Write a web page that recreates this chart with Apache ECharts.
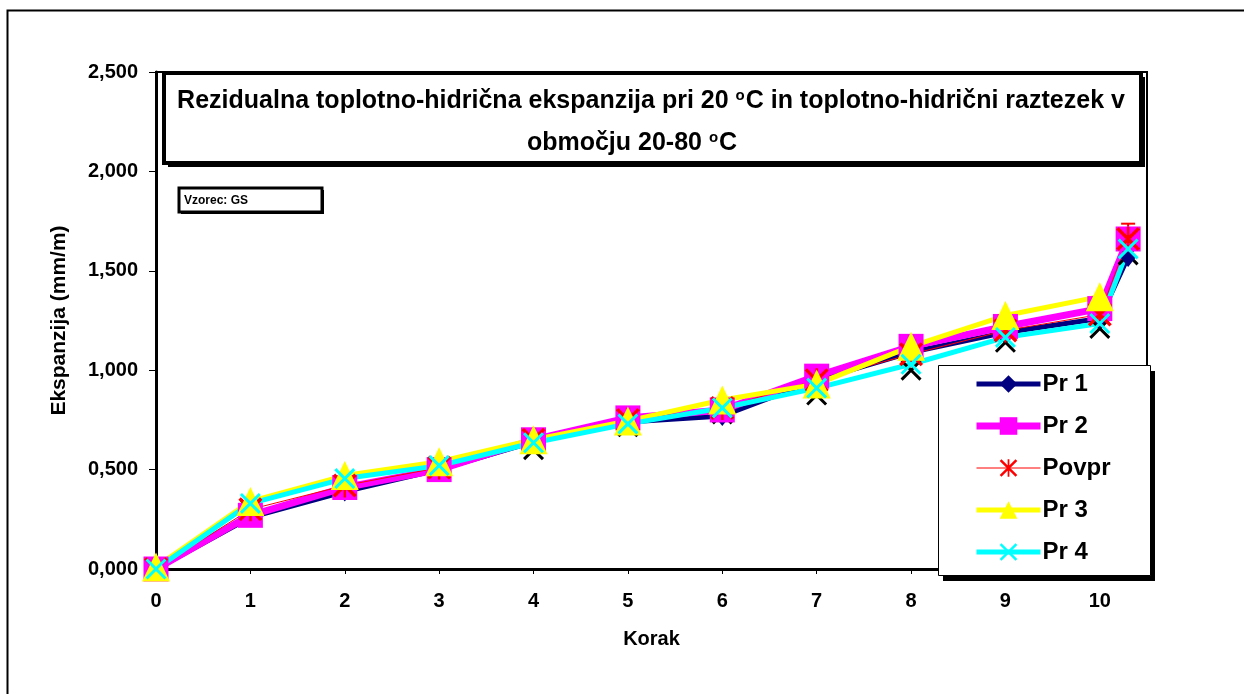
<!DOCTYPE html>
<html>
<head>
<meta charset="utf-8">
<script src="https://cdn.jsdelivr.net/npm/echarts@6/dist/echarts.min.js"></script>
<style>
  html, body { margin: 0; padding: 0; background: #fff; }
  #chart { width: 1244px; height: 694px; }
</style>
</head>
<body>
<div id="chart"></div>
<script>
// Measurement steps (Korak); the last one sits just after step 10
const steps = [0, 1, 2, 3, 4, 5, 6, 7, 8, 9, 10, 10.3];

// Expansion values in mm/m
const pr1   = [0, 0.26, 0.39, 0.50, 0.64, 0.74, 0.77, 0.95, 1.09, 1.19, 1.26, 1.57];
const pr2   = [0, 0.27, 0.41, 0.50, 0.65, 0.76, 0.80, 0.97, 1.12, 1.22, 1.31, 1.66];
const povpr = [0, 0.30, 0.42, 0.51, 0.65, 0.75, 0.81, 0.95, 1.08, 1.20, 1.28, 1.66];
const pr3   = [0.01, 0.34, 0.47, 0.54, 0.65, 0.745, 0.85, 0.93, 1.12, 1.275, 1.37, null];
const pr4   = [0, 0.33, 0.455, 0.52, 0.635, 0.73, 0.81, 0.91, 1.03, 1.165, 1.235, 1.61];
const pr5   = [0, 0.30, 0.42, 0.50, 0.60, 0.715, 0.78, 0.875, 1.00, 1.14, 1.21, 1.58];

// Error bar on the final average point: [step, low, high]
const povprError = [[10.3, 1.58, 1.737]];

const legendNames = ['Pr 1', 'Pr 2', 'Povpr', 'Pr 3', 'Pr 4'];
const titleLine1 = 'Rezidualna toplotno-hidrična ekspanzija pri 20 {sup|o}C in toplotno-hidrični raztezek v';
const titleLine2 = 'območju 20-80 {sup|o}C';
const sampleLabel = 'Vzorec: GS';
const xName = 'Korak';
const yName = 'Ekspanzija (mm/m)';

const FONT = '"Liberation Sans", Arial, sans-serif';
const xMark = 'path://M0,10L10,0L100,90L90,100Z M90,0L100,10L10,100L0,90Z';
const starMark = 'path://M0,10L10,0L100,90L90,100Z M90,0L100,10L10,100L0,90Z M45,0L55,0L55,100L45,100Z';

function pairs(values) {
  const out = [];
  values.forEach((v, i) => { if (v !== null) out.push([steps[i], v]); });
  return out;
}

function lineSeries(name, values, color, width, symbol, size, extra) {
  return Object.assign({
    name: name,
    type: 'line',
    data: pairs(values),
    color: color,
    symbol: symbol,
    symbolSize: size,
    showSymbol: true,
    showAllSymbol: true,
    lineStyle: { color: color, width: width },
    itemStyle: { color: color },
    emphasis: { disabled: true },
    animation: false
  }, extra || {});
}

const chart = echarts.init(document.getElementById('chart'), null, { renderer: 'canvas' });

const supRich = {
  sup: { fontSize: 15, fontWeight: 'bold', fontFamily: FONT, fill: '#000',
         verticalAlign: 'top', lineHeight: 12, padding: [0, 1, 0, 0] }
};

const option = {
  backgroundColor: '#fff',
  animation: false,
  grid: {
    left: 156, right: 97, top: 72, bottom: 125,
    show: true, borderColor: '#000', borderWidth: 2, backgroundColor: 'transparent',
    outerBoundsMode: 'none'
  },
  xAxis: {
    type: 'value', min: 0, max: 10.5, interval: 1,
    name: xName, nameLocation: 'middle', nameGap: 60,
    nameTextStyle: { fontFamily: FONT, fontWeight: 'bold', fontSize: 20, color: '#000' },
    axisLine: { show: true, onZero: false, lineStyle: { color: '#000', width: 3 } },
    axisTick: { show: true, inside: false, length: 5, lineStyle: { color: '#000', width: 1 } },
    axisLabel: {
      margin: 22, fontFamily: FONT, fontWeight: 'bold', fontSize: 20, color: '#000',
      formatter: v => (Number.isInteger(v) ? String(v) : '')
    },
    splitLine: { show: false }
  },
  yAxis: {
    type: 'value', min: 0, max: 2.5, interval: 0.5,
    name: yName, nameLocation: 'middle', nameGap: 86, nameRotate: 90,
    nameTextStyle: { fontFamily: FONT, fontWeight: 'bold', fontSize: 21, color: '#000' },
    axisLine: { show: true, onZero: false, lineStyle: { color: '#000', width: 3 } },
    axisTick: { show: true, inside: false, length: 7, lineStyle: { color: '#000', width: 1 } },
    axisLabel: {
      margin: 18, fontFamily: FONT, fontWeight: 'bold', fontSize: 20, color: '#000',
      formatter: v => v.toFixed(3).replace('.', ',')
    },
    splitLine: { show: false }
  },
  legend: {
    show: true,
    data: legendNames,
    orient: 'vertical',
    left: 973, top: 372,
    itemWidth: 64, itemHeight: 22, itemGap: 18,
    padding: 0,
    selectedMode: false,
    lineStyle: { width: 'inherit' },
    textStyle: { fontFamily: FONT, fontWeight: 'bold', fontSize: 24, color: '#000', padding: [0, 0, 0, -3] },
    z: 10
  },
  graphic: [
    // outer frame (top and left edges)
    { type: 'rect', z: 1, silent: true, shape: { x: 7.5, y: 10.5, width: 1300, height: 800 },
      style: { fill: 'none', stroke: '#000', lineWidth: 2 } },
    // title box with shadow
    { type: 'rect', z: 5, silent: true, shape: { x: 168, y: 77, width: 977, height: 90 },
      style: { fill: '#000' } },
    { type: 'rect', z: 5, silent: true, shape: { x: 164, y: 73, width: 977, height: 90 },
      style: { fill: '#fff', stroke: '#000', lineWidth: 4 } },
    { type: 'text', z: 6, silent: true,
      style: { x: 651, y: 101, text: titleLine1, textAlign: 'center', textVerticalAlign: 'middle',
               fontFamily: FONT, fontWeight: 'bold', fontSize: 25, fill: '#000', rich: supRich } },
    { type: 'text', z: 6, silent: true,
      style: { x: 632, y: 143, text: titleLine2, textAlign: 'center', textVerticalAlign: 'middle',
               fontFamily: FONT, fontWeight: 'bold', fontSize: 25, fill: '#000', rich: supRich } },
    // sample label box
    { type: 'rect', z: 5, silent: true, shape: { x: 181, y: 190, width: 143, height: 24 },
      style: { fill: '#000' } },
    { type: 'rect', z: 5, silent: true, shape: { x: 179, y: 188, width: 143, height: 24 },
      style: { fill: '#fff', stroke: '#000', lineWidth: 3 } },
    { type: 'text', z: 6, silent: true,
      style: { x: 184, y: 201, text: sampleLabel, textVerticalAlign: 'middle',
               fontFamily: FONT, fontWeight: 'bold', fontSize: 12, fill: '#000' } },
    // legend box with shadow
    { type: 'rect', z: 5, silent: true, shape: { x: 943, y: 371, width: 212, height: 210 },
      style: { fill: '#000' } },
    { type: 'rect', z: 5, silent: true, shape: { x: 938.5, y: 365.5, width: 212, height: 210 },
      style: { fill: '#fff', stroke: '#000', lineWidth: 1 } }
  ],
  series: [
    lineSeries('Pr 5', pr5, '#000000', 0, xMark, 21, { lineStyle: { width: 0, opacity: 0 } }),
    lineSeries('Pr 1', pr1, '#000080', 5, 'diamond', [16, 20]),
    lineSeries('Pr 2', pr2, '#ff00ff', 7, 'rect', 25),
    {
      name: 'Povpr napaka',
      type: 'custom',
      data: povprError,
      animation: false,
      silent: true,
      renderItem: function (params, api) {
        const lo = api.coord([api.value(0), api.value(1)]);
        const hi = api.coord([api.value(0), api.value(2)]);
        const cap = 7;
        const st = { stroke: '#ff0000', lineWidth: 2 };
        return {
          type: 'group',
          children: [
            { type: 'line', shape: { x1: lo[0], y1: lo[1], x2: hi[0], y2: hi[1] }, style: st },
            { type: 'line', shape: { x1: hi[0] - cap, y1: hi[1], x2: hi[0] + cap, y2: hi[1] }, style: st },
            { type: 'line', shape: { x1: lo[0] - cap, y1: lo[1], x2: lo[0] + cap, y2: lo[1] }, style: st }
          ]
        };
      }
    },
    lineSeries('Povpr', povpr, '#ff0000', 1, starMark, 24),
    lineSeries('Pr 3', pr3, '#ffff00', 5, 'triangle', [28, 29]),
    lineSeries('Pr 4', pr4, '#00ffff', 5, xMark, 21)
  ]
};

chart.setOption(option);
</script>
</body>
</html>
